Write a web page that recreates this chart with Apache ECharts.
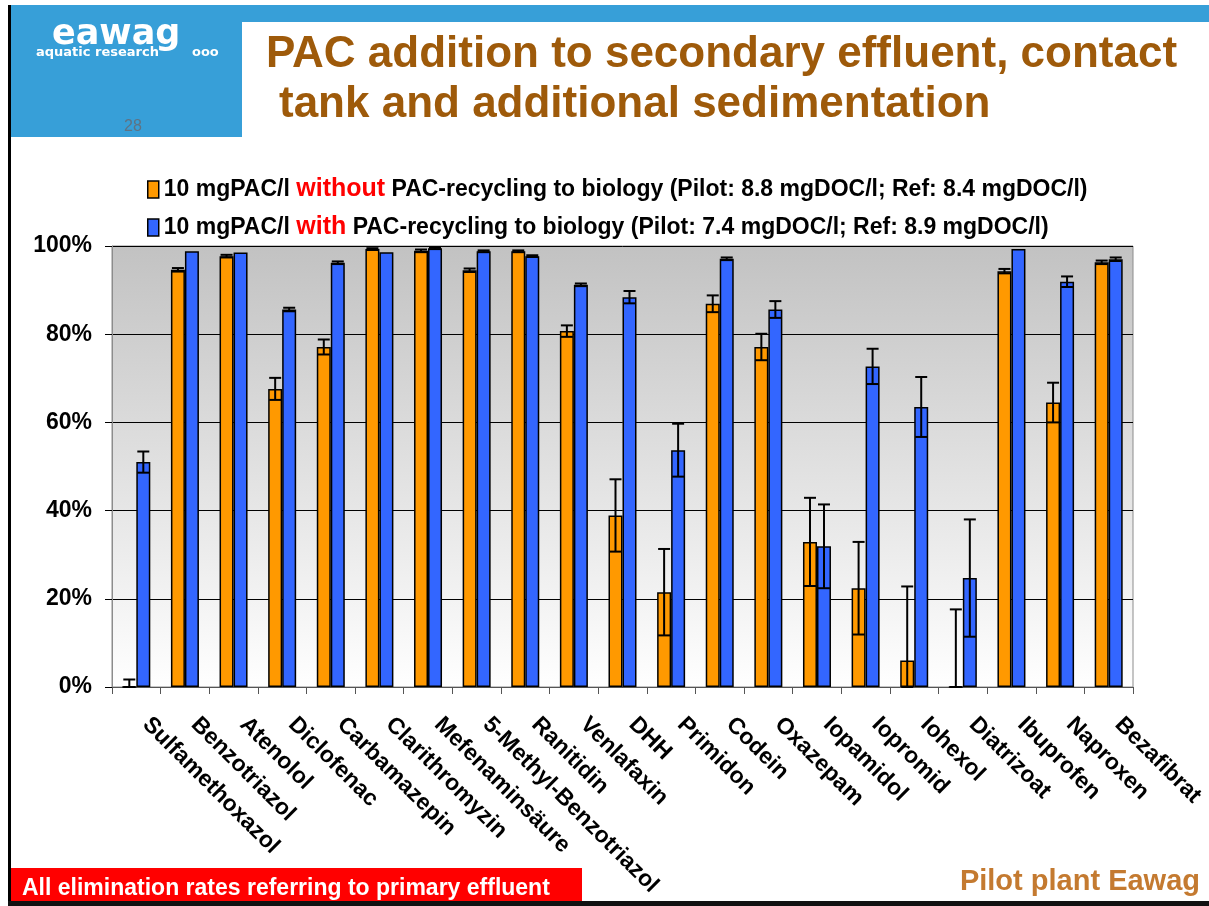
<!DOCTYPE html>
<html>
<head>
<meta charset="utf-8">
<script src="https://cdn.jsdelivr.net/npm/echarts@6/dist/echarts.min.js"></script>
<style>
  html, body { margin: 0; padding: 0; background: #fff; }
  #chart { width: 1209px; height: 906px; }
</style>
</head>
<body>
<div id="chart"></div>
<script>
// categories (substances)
const categories = ['Sulfamethoxazol', 'Benzotriazol', 'Atenolol', 'Diclofenac', 'Carbamazepin',
  'Clarithromyzin', 'Mefenaminsäure', '5-Methyl-Benzotriazol', 'Ranitidin', 'Venlafaxin', 'DHH',
  'Primidon', 'Codein', 'Oxazepam', 'Iopamidol', 'Iopromid', 'Iohexol', 'Diatrizoat',
  'Ibuprofen', 'Naproxen', 'Bezafibrat']

// elimination rates in %
const withoutRecycling = [0, 94.6, 97.7, 67.6, 77.1, 99.3, 98.9, 94.5, 98.8, 80.7, 38.9,
  21.5, 86.9, 77.1, 32.9, 22.4, 6.0, 0, 94.3, 64.5, 96.3]
const withoutErr = [1.7, 0.4, 0.3, 2.5, 1.7, 0.2, 0.3, 0.4, 0.2, 1.3, 8.2,
  9.8, 1.9, 3.0, 10.0, 10.5, 16.8, 17.6, 0.5, 4.5, 0.4]
const withRecycling = [51.0, 98.8, 98.5, 85.6, 96.2, 98.6, 99.5, 98.8, 97.7, 91.2, 88.4,
  53.7, 97.1, 85.6, 31.9, 72.7, 63.5, 24.7, 99.3, 91.9, 97.0]
const withErr = [2.4, 0, 0, 0.4, 0.3, 0, 0.2, 0.2, 0.2, 0.3, 1.4,
  6.0, 0.3, 1.9, 9.5, 4.0, 6.8, 13.3, 0, 1.2, 0.4]

const yTicks = [0, 20, 40, 60, 80, 100]

const nameWithout = 'without'
const nameWith = 'with'

const barW = 14

// error bar rows: [index, low, high, err]
const errRows = (vals, errs) => vals.map((v, i) => [i, Math.max(0, v - errs[i]), v + errs[i], errs[i]])

const errRender = (offset) => (params, api) => {
  if (!api.value(3)) return null
  const lo = api.coord([api.value(0), api.value(1)])
  const hi = api.coord([api.value(0), api.value(2)])
  const x = lo[0] + offset
  const cap = 6
  const style = { stroke: '#000', lineWidth: 2 }
  return {
    type: 'group',
    children: [
      { type: 'line', shape: { x1: x, y1: lo[1], x2: x, y2: hi[1] }, style },
      { type: 'line', shape: { x1: x - cap, y1: hi[1], x2: x + cap, y2: hi[1] }, style },
      { type: 'line', shape: { x1: x - cap, y1: lo[1], x2: x + cap, y2: lo[1] }, style }
    ]
  }
}

const chart = echarts.init(document.getElementById('chart'))

const titleColor = '#9e5a0a'
const font = '"Liberation Sans", Arial, sans-serif'

const option = {
  backgroundColor: '#fff',
  animation: false,
  textStyle: { fontFamily: font },
  graphic: [
    // frame lines
    { type: 'rect', shape: { x: 8, y: 5, width: 3, height: 901 }, style: { fill: '#000' } },
    { type: 'rect', shape: { x: 8, y: 901, width: 1201, height: 5 }, style: { fill: '#111' } },
    // blue header strip and logo box
    { type: 'rect', shape: { x: 11, y: 5, width: 1198, height: 17 }, style: { fill: '#379fd8' } },
    { type: 'rect', shape: { x: 11, y: 5, width: 231, height: 132 }, style: { fill: '#379fd8' } },
    { type: 'text', x: 52, y: 35, style: { text: 'eawag', fill: '#fff', font: 'bold 35px "DejaVu Sans", sans-serif', verticalAlign: 'middle' } },
    { type: 'text', x: 36, y: 53, style: { text: 'aquatic research', fill: '#fff', font: 'bold 13px "DejaVu Sans", sans-serif', verticalAlign: 'middle' } },
    { type: 'text', x: 192, y: 53, style: { text: 'ooo', fill: '#fff', font: 'bold 13px "DejaVu Sans", sans-serif', verticalAlign: 'middle' } },
    { type: 'text', x: 124, y: 127, style: { text: '28', fill: '#5f7283', font: '16px ' + font, verticalAlign: 'middle' } },
    // title
    { type: 'text', x: 266, y: 55, style: { text: 'PAC addition to secondary effluent, contact', fill: titleColor, font: 'bold 44px ' + font, verticalAlign: 'middle' } },
    { type: 'text', x: 279, y: 105, style: { text: 'tank and additional sedimentation', fill: titleColor, font: 'bold 44px ' + font, verticalAlign: 'middle' } },
    // footer
    { type: 'rect', shape: { x: 11, y: 868, width: 571, height: 33 }, style: { fill: '#ff0000' } },
    { type: 'text', x: 22, y: 889, style: { text: 'All elimination rates referring to primary effluent', fill: '#fff', font: 'bold 23px ' + font, verticalAlign: 'middle' } },
    { type: 'text', x: 1200, y: 882, style: { text: 'Pilot plant Eawag', fill: '#c47a30', font: 'bold 29px ' + font, align: 'right', verticalAlign: 'middle' } }
  ],
  legend: {
    data: [nameWithout, nameWith],
    orient: 'vertical',
    left: 142,
    top: 172,
    itemWidth: 11,
    itemHeight: 17,
    itemGap: 13,
    icon: 'rect',
    itemStyle: { borderColor: '#000', borderWidth: 1.5 },
    formatter: (name) => name === nameWithout
      ? '10 mgPAC/l {r|without} PAC-recycling to biology (Pilot: 8.8 mgDOC/l; Ref: 8.4 mgDOC/l)'
      : '10 mgPAC/l {r|with} PAC-recycling to biology (Pilot: 7.4 mgDOC/l; Ref: 8.9 mgDOC/l)',
    textStyle: {
      color: '#000', fontSize: 23, fontWeight: 'bold', fontFamily: font, lineHeight: 24,
      rich: { r: { color: '#ff0000', fontSize: 25, fontFamily: font, lineHeight: 24 } }
    }
  },
  grid: {
    left: 112, right: 76, top: 246, bottom: 219,
    show: true,
    borderColor: '#8c8c8c',
    borderWidth: 1,
    backgroundColor: new echarts.graphic.LinearGradient(0, 0, 0, 1, [
      { offset: 0, color: '#c2c2c2' },
      { offset: 1, color: '#ffffff' }
    ])
  },
  xAxis: {
    type: 'category',
    data: categories,
    axisLine: { lineStyle: { color: '#555', width: 1 } },
    axisTick: { show: true, length: 7, lineStyle: { color: '#555' } },
    axisLabel: {
      interval: 0, rotate: -45, margin: 24, padding: [0, 0, 0, 14],
      color: '#000', fontSize: 23, fontWeight: 'bold'
    }
  },
  yAxis: {
    type: 'value',
    min: yTicks[0],
    max: yTicks[yTicks.length - 1],
    interval: 20,
    axisLine: { show: true, lineStyle: { color: '#8c8c8c' } },
    axisTick: { show: true, length: 7, lineStyle: { color: '#000' } },
    axisLabel: { formatter: '{value}%', color: '#000', fontSize: 23, fontWeight: 'bold', margin: 20 },
    splitLine: { lineStyle: { color: '#000', width: 1 } }
  },
  series: [
    {
      name: nameWithout,
      type: 'bar',
      data: withoutRecycling,
      barWidth: barW,
      barGap: '0%',
      itemStyle: { color: '#ff9900', borderColor: '#000', borderWidth: 1.5 }
    },
    {
      name: nameWith,
      type: 'bar',
      data: withRecycling,
      barWidth: barW,
      barGap: '0%',
      itemStyle: { color: '#3366ff', borderColor: '#000', borderWidth: 1.5 }
    },
    {
      type: 'custom',
      name: 'errWithout',
      renderItem: errRender(-barW / 2),
      data: errRows(withoutRecycling, withoutErr),
      encode: { x: 0, y: [1, 2] },
      z: 5
    },
    {
      type: 'custom',
      name: 'errWith',
      renderItem: errRender(barW / 2),
      data: errRows(withRecycling, withErr),
      encode: { x: 0, y: [1, 2] },
      z: 5
    }
  ]
}

chart.setOption(option)
</script>
</body>
</html>
